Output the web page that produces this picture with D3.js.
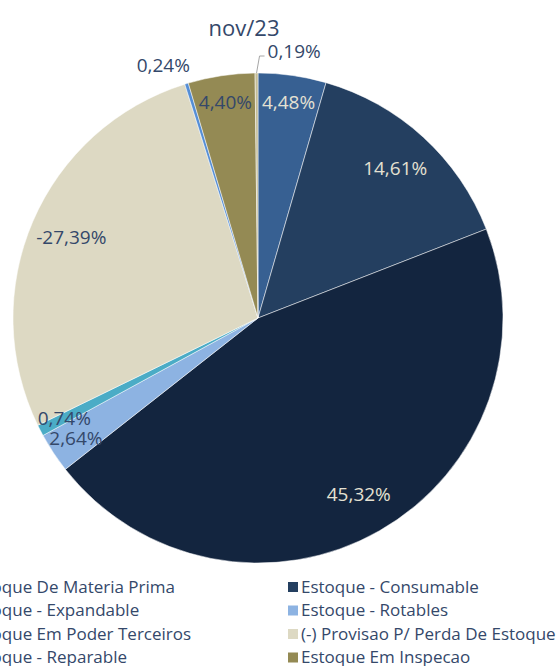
<!DOCTYPE html>
<html>
<head>
<meta charset="utf-8">
<script src="https://cdn.jsdelivr.net/npm/d3@7"></script>
<style>
	body { margin: 0; background: #fff; overflow: hidden; }
	text { font-family: 'Open Sans', sans-serif; }
</style>
</head>
<body>
<div id="chart"></div>
<script>
// data (nov/23)
const categories = [
	'Estoque De Materia Prima',
	'Estoque - Consumable',
	'Estoque - Expandable',
	'Estoque - Rotables',
	'Estoque Em Poder Terceiros',
	'(-) Provisao P/ Perda De Estoque',
	'Estoque - Reparable',
	'Estoque Em Inspecao',
	'Estoque Em Transito',
];
const values = [4.48, 14.61, 45.32, 2.64, 0.74, -27.39, 0.24, 4.4, 0.19];
const colors = ['#376092', '#243F60', '#13253F', '#8DB3E2', '#4BACC6', '#DDD9C3', '#558ED5', '#948A54', '#C4BD97'];
const title = 'nov/23';

const width = 560,
	height = 666;
const cx = 258,
	cy = 318,
	R = 245;
const textDark = '#34486A',
	textLight = '#E4E1D2';

const data = categories.map(function (c, i) {
	return { name: c, value: values[i], color: colors[i], i: i };
});

const svg = d3
	.select('#chart')
	.append('svg')
	.attr('width', width)
	.attr('height', height);

// title
svg
	.append('text')
	.attr('x', 244)
	.attr('y', 36)
	.attr('text-anchor', 'middle')
	.attr('font-size', 22)
	.attr('fill', textDark)
	.text(title);

// pie uses absolute values, like the spreadsheet did
const pie = d3
	.pie()
	.sort(null)
	.value(function (d) {
		return Math.abs(d.value);
	});
const arcs = pie(data);

const arc = d3.arc().innerRadius(0).outerRadius(R);

const g = svg.append('g').attr('transform', `translate(${cx},${cy})`);

g.selectAll('path')
	.data(arcs)
	.join('path')
	.attr('d', arc)
	.attr('fill', function (d) {
		return d.data.color;
	})
	.attr('stroke', '#fff')
	.attr('stroke-width', 0.5);

const fmt = function (v) {
	return v.toFixed(2).replace('.', ',') + '%';
};

function midAngle(d) {
	return (d.startAngle + d.endAngle) / 2;
}

// labels
arcs.forEach(function (d) {
	const a = midAngle(d);
	const abs = Math.abs(d.data.value);
	const dark = d.data.i < 3;
	if (abs >= 0.5) {
		const r = abs > 10 ? R * 0.83 : R * 0.89;
		g.append('text')
			.attr('x', r * Math.sin(a))
			.attr('y', -r * Math.cos(a))
			.attr('dy', '0.35em')
			.attr('text-anchor', 'middle')
			.attr('font-size', 19)
			.attr('fill', dark ? textLight : textDark)
			.text(fmt(d.data.value));
	} else if (a > Math.PI * 2 - 0.02) {
		// tiny slice at the top: leader line
		const x0 = R * Math.sin(a),
			y0 = -R * Math.cos(a);
		g.append('path')
			.attr('d', `M${x0},${y0}L${x0 + 3},${y0 - 17}L${x0 + 8},${y0 - 17}`)
			.attr('fill', 'none')
			.attr('stroke', '#A6A6A6')
			.attr('stroke-width', 1);
		g.append('text')
			.attr('x', x0 + 11)
			.attr('y', y0 - 22)
			.attr('dy', '0.35em')
			.attr('font-size', 19)
			.attr('fill', textDark)
			.text(fmt(d.data.value));
	} else {
		const r = R * 1.08;
		g.append('text')
			.attr('x', r * Math.sin(a) + 9)
			.attr('y', -r * Math.cos(a))
			.attr('dy', '0.35em')
			.attr('text-anchor', 'end')
			.attr('font-size', 19)
			.attr('fill', textDark)
			.text(fmt(d.data.value));
	}
});

// legend, two columns (left one runs past the edge)
const colX = [-45, 288];
const legend = svg
	.append('g')
	.selectAll('g')
	.data(data)
	.join('g')
	.attr('transform', function (d) {
		return `translate(${colX[d.i % 2]},${587 + Math.floor(d.i / 2) * 23.5})`;
	});
legend
	.append('rect')
	.attr('x', 0)
	.attr('y', -5)
	.attr('width', 10)
	.attr('height', 10)
	.attr('fill', function (d) {
		return d.color;
	});
legend
	.append('text')
	.attr('x', 13)
	.attr('dy', '0.35em')
	.attr('font-size', 17)
	.attr('fill', textDark)
	.text(function (d) {
		return d.name;
	});
</script>
</body>
</html>
